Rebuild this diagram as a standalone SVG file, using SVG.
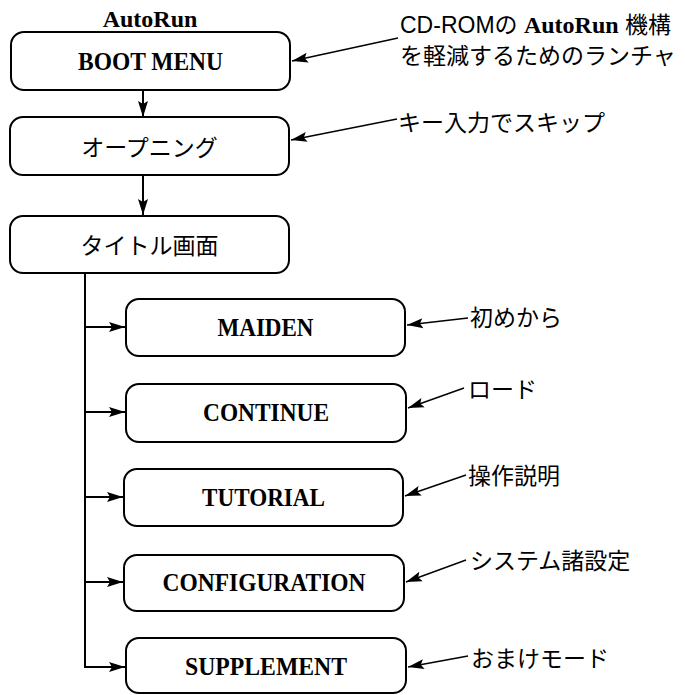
<svg xmlns="http://www.w3.org/2000/svg" width="685" height="695" viewBox="0 0 685 695">
<style>
.box{fill:#fff;stroke:#000;stroke-width:2}
.lbl{font-family:"Liberation Serif","Times New Roman",serif;font-weight:bold;font-size:25.5px;text-anchor:middle;fill:#000}
.jlbl{font-family:"Liberation Sans","Noto Sans CJK JP",sans-serif;font-size:23px;text-anchor:middle;fill:#000}
.note{font-family:"Liberation Sans","Noto Sans CJK JP",sans-serif;font-size:23px;fill:#000}
.ser{font-family:"Liberation Serif","Times New Roman",serif;font-weight:bold}
.conn{fill:none;stroke:#000;stroke-width:2}
.ann{fill:none;stroke:#000;stroke-width:1.4}
</style>
<defs>
<marker id="ah" markerUnits="userSpaceOnUse" markerWidth="18" markerHeight="12" viewBox="0 -6 18 12" refX="16" refY="0" orient="auto">
<path d="M0,-5 L16,0 L0,5 L3,0 z" fill="#000"/>
</marker>
</defs>
<text class="ser" x="150" y="27" font-size="24" text-anchor="middle">AutoRun</text>
<g id="boot"><rect class="box" x="11" y="32" width="279" height="58" rx="13"/><text class="lbl" x="150.5" y="70" textLength="145" lengthAdjust="spacingAndGlyphs">BOOT MENU</text></g>
<g id="opening"><rect class="box" x="10" y="117" width="279" height="58" rx="13"/><text class="jlbl" x="149.5" y="156">オープニング</text></g>
<g id="title"><rect class="box" x="10" y="216" width="279" height="57" rx="13"/><text class="jlbl" x="149.5" y="254">タイトル画面</text></g>
<g id="maiden"><rect class="box" x="126" y="299" width="279" height="57" rx="13"/><text class="lbl" x="265.5" y="336" textLength="96" lengthAdjust="spacingAndGlyphs">MAIDEN</text></g>
<g id="continue"><rect class="box" x="126" y="384" width="280" height="58" rx="13"/><text class="lbl" x="266" y="421" textLength="126" lengthAdjust="spacingAndGlyphs">CONTINUE</text></g>
<g id="tutorial"><rect class="box" x="124" y="469" width="279" height="57" rx="13"/><text class="lbl" x="263.5" y="506" textLength="123" lengthAdjust="spacingAndGlyphs">TUTORIAL</text></g>
<g id="config"><rect class="box" x="124" y="555" width="280" height="56" rx="13"/><text class="lbl" x="264" y="591" textLength="203" lengthAdjust="spacingAndGlyphs">CONFIGURATION</text></g>
<g id="supplement"><rect class="box" x="126" y="638" width="280" height="55" rx="13"/><text class="lbl" x="266" y="675" textLength="162" lengthAdjust="spacingAndGlyphs">SUPPLEMENT</text></g>
<g id="notes">
<text class="note" x="400" y="33">CD-ROMの <tspan class="ser" font-size="24">AutoRun</tspan> 機構</text>
<text class="note" x="400" y="64">を軽減するためのランチャ</text>
<text class="note" x="398" y="131">キー入力でスキップ</text>
<text class="note" x="470" y="326">初めから</text>
<text class="note" x="468" y="398">ロード</text>
<text class="note" x="468" y="484">操作説明</text>
<text class="note" x="470" y="569">システム諸設定</text>
<text class="note" x="471" y="667">おまけモード</text>
</g>
<g id="connectors">
<line class="conn" x1="143" y1="90" x2="143" y2="117" marker-end="url(#ah)"/>
<line class="conn" x1="143" y1="175" x2="143" y2="215" marker-end="url(#ah)"/>
<path class="conn" d="M85,273 V667 H125" marker-end="url(#ah)"/>
<line class="conn" x1="85" y1="327" x2="125" y2="327" marker-end="url(#ah)"/>
<line class="conn" x1="85" y1="412" x2="125" y2="412" marker-end="url(#ah)"/>
<line class="conn" x1="85" y1="497" x2="123" y2="497" marker-end="url(#ah)"/>
<line class="conn" x1="85" y1="582" x2="123" y2="582" marker-end="url(#ah)"/>
<line class="ann" x1="398" y1="38" x2="292" y2="61" marker-end="url(#ah)"/>
<line class="ann" x1="397" y1="119" x2="291" y2="140" marker-end="url(#ah)"/>
<line class="ann" x1="468" y1="318" x2="407" y2="325" marker-end="url(#ah)"/>
<line class="ann" x1="464" y1="388" x2="408" y2="408" marker-end="url(#ah)"/>
<line class="ann" x1="466" y1="475" x2="405" y2="496" marker-end="url(#ah)"/>
<line class="ann" x1="466" y1="560" x2="406" y2="582" marker-end="url(#ah)"/>
<line class="ann" x1="468" y1="656" x2="408" y2="667" marker-end="url(#ah)"/>
</g>
</svg>
